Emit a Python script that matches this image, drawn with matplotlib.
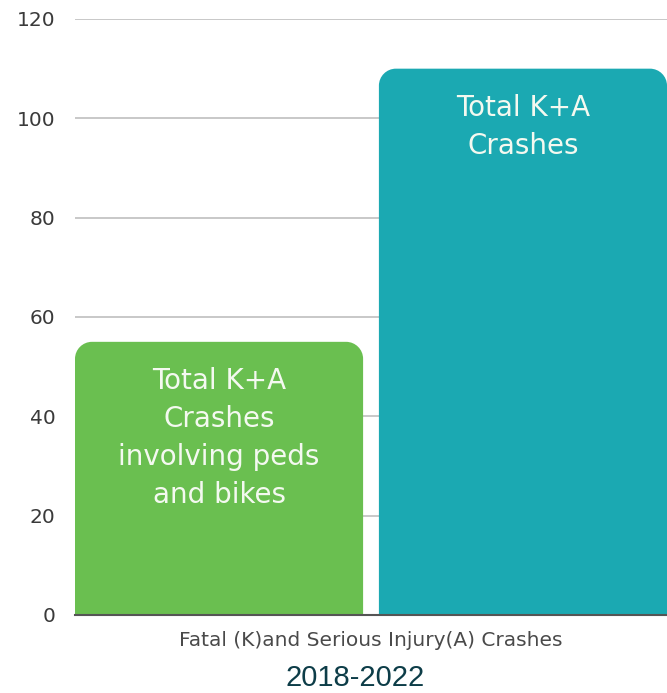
import matplotlib
matplotlib.use("Agg")
import matplotlib.pyplot as plt
from matplotlib.path import Path
from matplotlib.patches import PathPatch

categories = ["Total K+A\nCrashes\ninvolving peds\nand bikes", "Total K+A\nCrashes"]
values = [55, 110]
colors = ["#6abf50", "#1ba9b2"]
yticks = [0, 20, 40, 60, 80, 100, 120]
xlabel = "Fatal (K)and Serious Injury(A) Crashes"
subtitle = "2018-2022"

W, H = 667, 693
fig = plt.figure(figsize=(W / 100, H / 100), dpi=100)
ax = fig.add_axes([75 / W, (H - 615) / H, (667 - 75) / W, (615 - 19) / H])

bar_w = 0.948
bars = ax.bar(range(len(values)), values, width=bar_w, color=colors, zorder=2)
ax.set_xlim(-bar_w / 2, len(values) - 1 + bar_w / 2)
ax.set_ylim(0, 120)
ax.set_yticks(yticks)
ax.set_xticks([])
ax.yaxis.grid(True, color="#c8c8c8", linewidth=1.4, zorder=0)
ax.set_axisbelow(True)
for s in ["top", "right", "left"]:
    ax.spines[s].set_visible(False)
ax.spines["bottom"].set_color("#555555")
ax.spines["bottom"].set_linewidth(1.5)
ax.spines["bottom"].set_zorder(3)
ax.tick_params(axis="y", length=0, pad=14, labelsize=14.5, labelcolor="#3a3a3a")
for lab in ax.get_yticklabels():
    lab.set_fontfamily("DejaVu Sans")

# round top corners of bars
fig.canvas.draw()
r_px = 17
inv = ax.transData.inverted()
p0 = inv.transform((0, 0))
p1 = inv.transform((r_px, r_px))
rx, ry = p1[0] - p0[0], p1[1] - p0[1]
k = 0.5523
for b in bars:
    x0, y0 = b.get_x(), b.get_y()
    x1, y1 = x0 + b.get_width(), y0 + b.get_height()
    verts = [
        (x0, y0), (x0, y1 - ry),
        (x0, y1 - ry + k * ry), (x0 + rx - k * rx, y1), (x0 + rx, y1),
        (x1 - rx, y1),
        (x1 - rx + k * rx, y1), (x1, y1 - ry + k * ry), (x1, y1 - ry),
        (x1, y0), (x0, y0),
    ]
    codes = [Path.MOVETO, Path.LINETO,
             Path.CURVE4, Path.CURVE4, Path.CURVE4,
             Path.LINETO,
             Path.CURVE4, Path.CURVE4, Path.CURVE4,
             Path.LINETO, Path.CLOSEPOLY]
    patch = PathPatch(Path(verts, codes), facecolor=b.get_facecolor(),
                      edgecolor="none", zorder=2)
    b.set_visible(False)
    ax.add_patch(patch)

for i, (lab, v) in enumerate(zip(categories, values)):
    ax.annotate(lab, xy=(i, v), xytext=(0, -18), textcoords="offset points",
                ha="center", va="top", color="#f4f9f0", fontsize=20,
                family="DejaVu Sans", linespacing=1.45, zorder=4)

fig.text((75 + 667) / 2 / W, 1 - 640 / H, xlabel, ha="center", va="center",
         fontsize=14.5, color="#4a4a4a", family="DejaVu Sans")
fig.text(355 / W, 1 - 678 / H, subtitle, ha="center", va="center",
         fontsize=21, color="#0d3d48", family="Liberation Sans")

fig.savefig("out.png", dpi=100)
